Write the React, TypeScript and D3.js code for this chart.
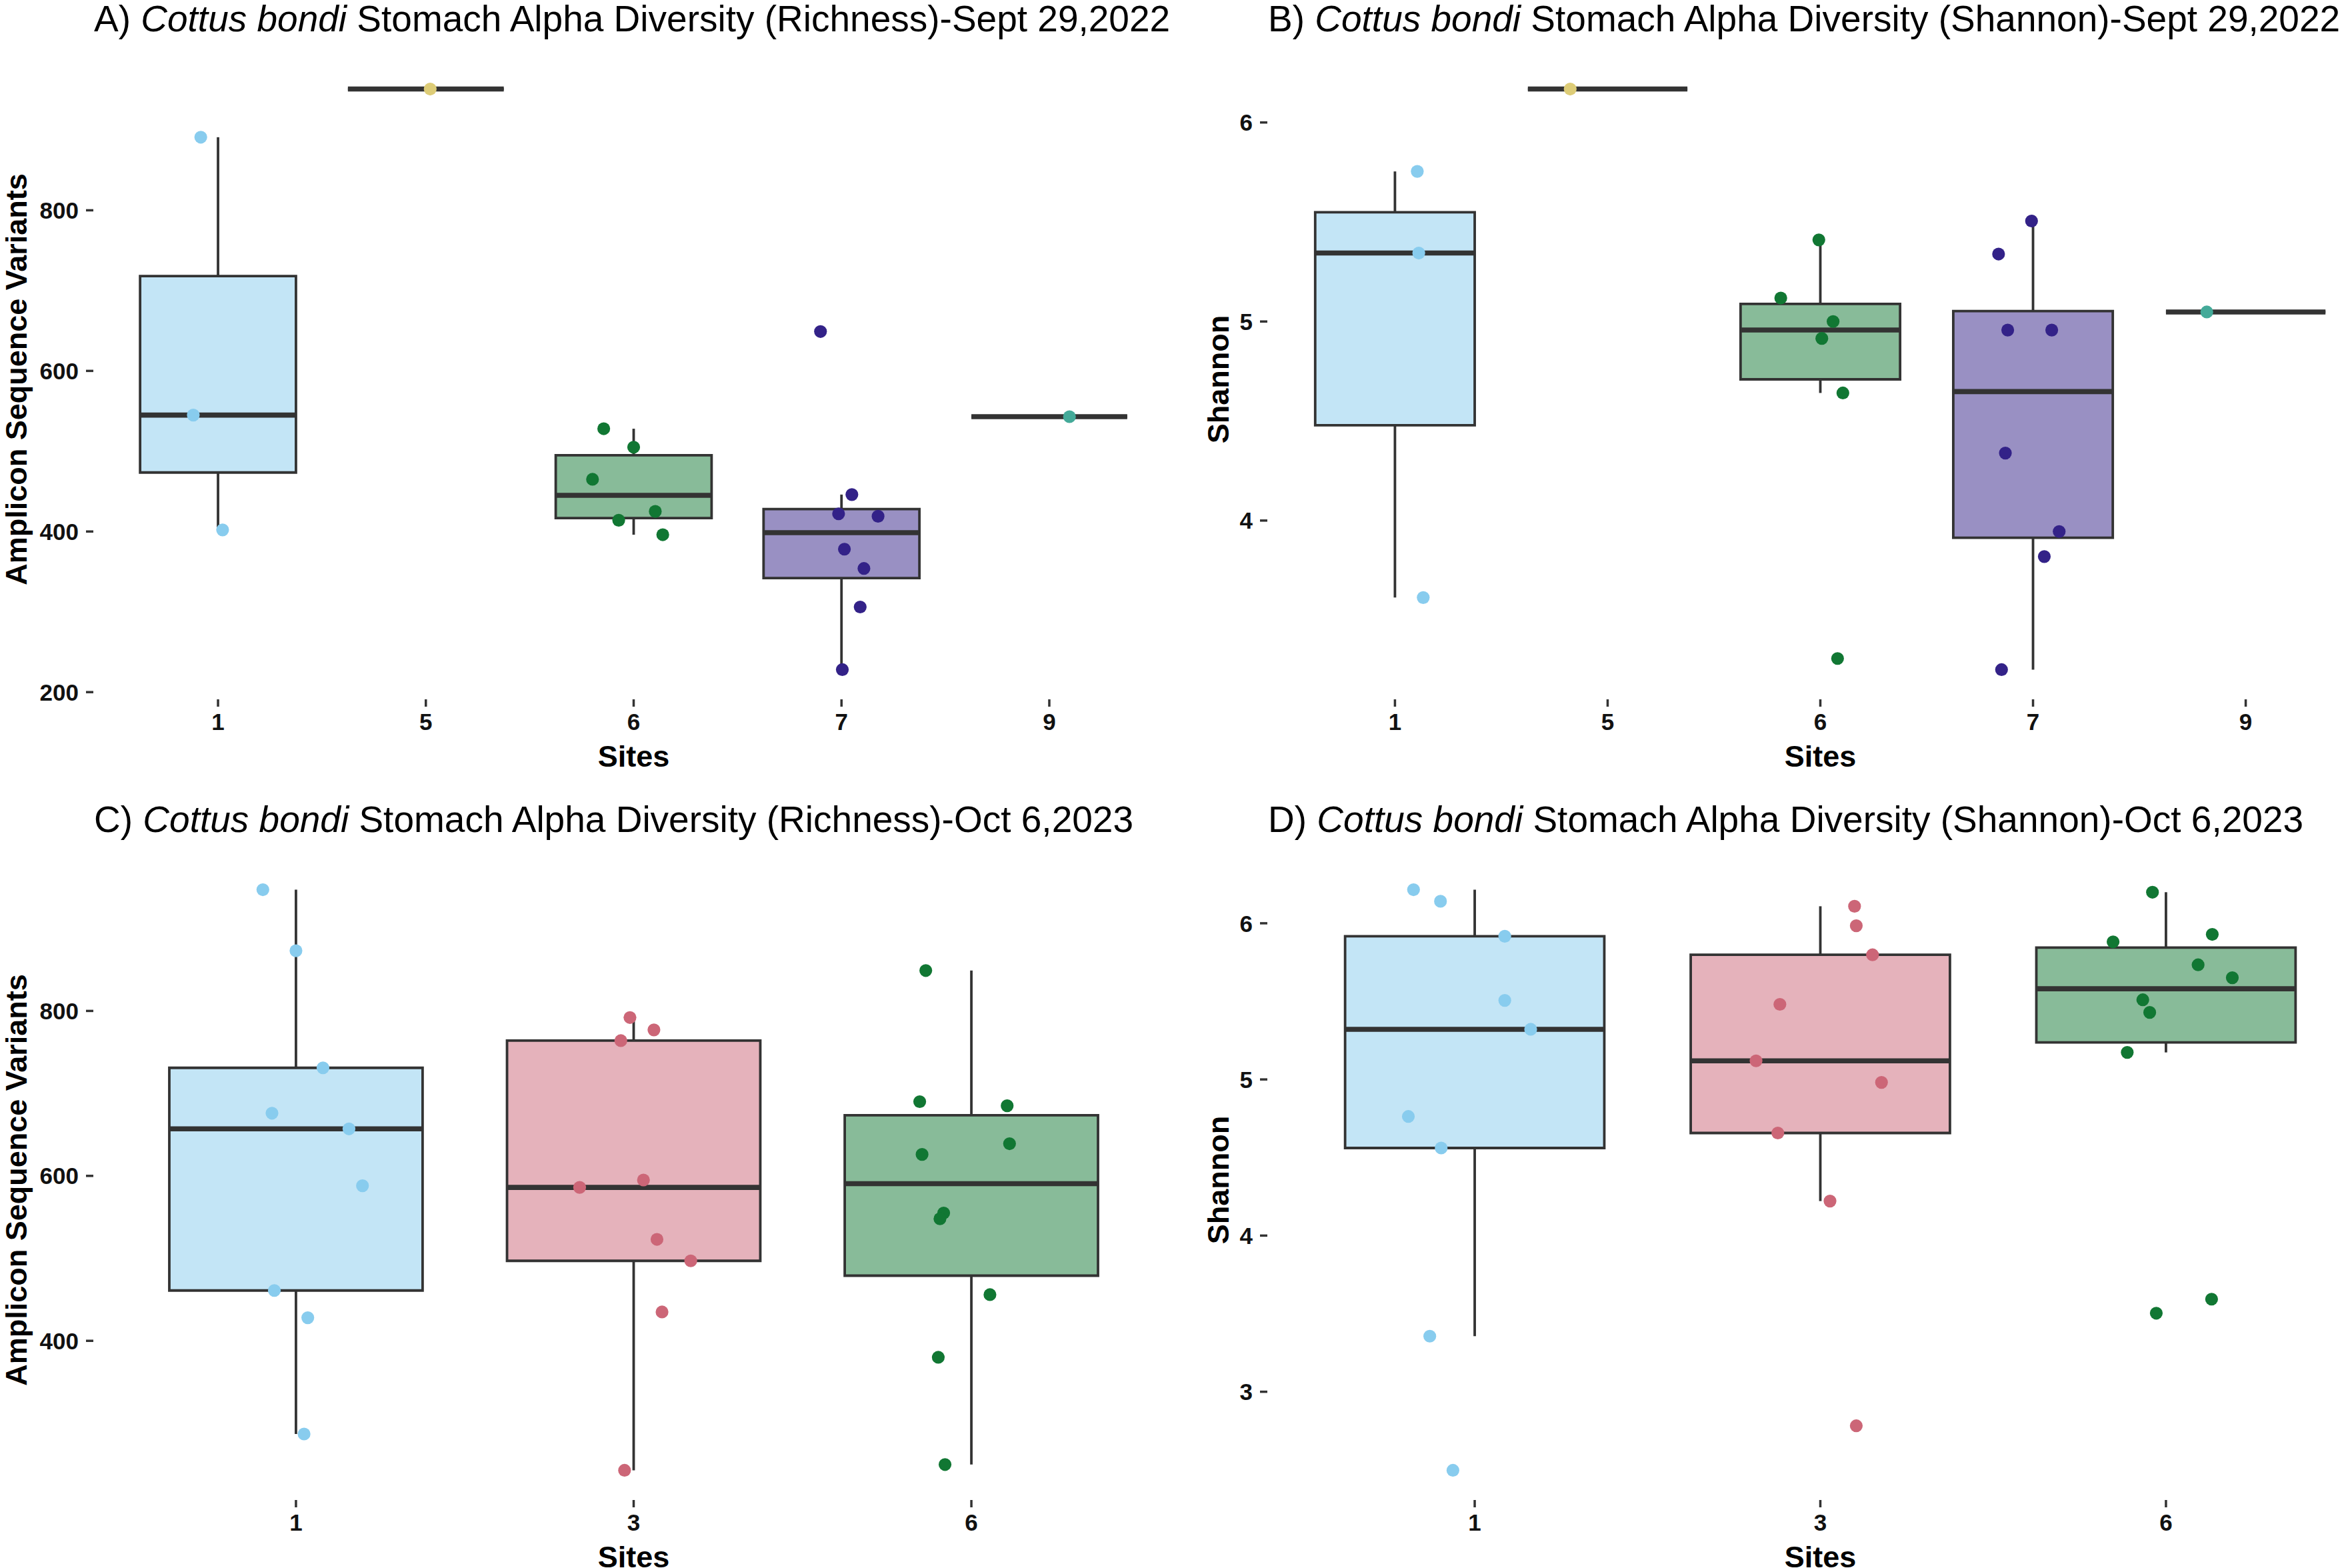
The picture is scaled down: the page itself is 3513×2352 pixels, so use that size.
import React from "react";
import * as d3 from "d3";

// ---------- data ----------
const sites2022 = ["1", "5", "6", "7", "9"];
const sites2023 = ["1", "3", "6"];

const richness2022 = [
  [891, 545, 402],
  [951],
  [528, 505, 465, 425, 414, 396],
  [649, 446, 422, 419, 378, 354, 306, 228],
  [543],
];
const jitterRichness2022 = [
  [-0.083, -0.119, 0.022],
  [0.021],
  [-0.144, 0.0, -0.198, 0.104, -0.072, 0.14],
  [-0.101, 0.05, -0.014, 0.176, 0.014, 0.108, 0.09, 0.004],
  [0.097],
];

const shannon2022 = [
  [5.754, 5.344, 3.613],
  [6.168],
  [5.41, 5.118, 5.0, 4.915, 4.641, 3.307],
  [5.505, 5.339, 4.957, 4.957, 4.339, 3.945, 3.819, 3.251],
  [5.048],
];
const jitterShannon2022 = [
  [0.105, 0.112, 0.133],
  [-0.176],
  [-0.007, -0.186, 0.06, 0.007, 0.106, 0.081],
  [-0.007, -0.162, -0.119, 0.088, -0.13, 0.123, 0.053, -0.148],
  [-0.183],
];

const richness2023 = [
  [947, 873, 731, 676, 657, 588, 461, 428, 287],
  [792, 777, 764, 595, 586, 523, 497, 435, 243],
  [849, 690, 685, 639, 626, 555, 548, 456, 380, 250],
];
const jitterRichness2023 = [
  [-0.098, 0.0, 0.08, -0.071, 0.157, 0.197, -0.064, 0.035, 0.024],
  [-0.011, 0.06, -0.038, 0.029, -0.16, 0.069, 0.169, 0.084, -0.027],
  [-0.135, -0.153, 0.106, 0.113, -0.146, -0.082, -0.093, 0.055, -0.098, -0.078],
];

const shannon2023 = [
  [6.215, 6.141, 5.917, 5.506, 5.321, 4.763, 4.561, 3.356, 2.497],
  [6.109, 5.984, 5.798, 5.481, 5.119, 4.981, 4.657, 4.221, 2.782],
  [6.199, 5.929, 5.881, 5.734, 5.651, 5.51, 5.429, 5.173, 3.593, 3.503],
];
const jitterShannon2023 = [
  [-0.177, -0.099, 0.087, 0.087, 0.162, -0.192, -0.097, -0.13, -0.063],
  [0.099, 0.104, 0.151, -0.117, -0.186, 0.177, -0.123, 0.028, 0.104],
  [-0.039, 0.134, -0.153, 0.093, 0.192, -0.067, -0.047, -0.112, 0.132, -0.028],
];

const ticksRichness2022 = [200, 400, 600, 800];
const ticksShannon2022 = [4, 5, 6];
const ticksRichness2023 = [400, 600, 800];
const ticksShannon2023 = [3, 4, 5, 6];

const siteColors: Record<string, string> = {
  "1": "#88CCEE",
  "3": "#CC6677",
  "5": "#DDCC77",
  "6": "#117733",
  "7": "#332288",
  "9": "#44AA99",
};

const titlePrefixes = ["A) ", "B) ", "C) ", "D) "];
const titleSpecies = "Cottus bondi";
const titleSuffixes = [
  " Stomach Alpha Diversity (Richness)-Sept 29,2022",
  " Stomach Alpha Diversity (Shannon)-Sept 29,2022",
  " Stomach Alpha Diversity (Richness)-Oct 6,2023",
  " Stomach Alpha Diversity (Shannon)-Oct 6,2023",
];
const yTitles = ["Amplicon Sequence Variants", "Shannon", "Amplicon Sequence Variants", "Shannon"];
const xTitle = "Sites";

// ---------- layout ----------
const W = 3513;
const H = 2352;
const FONT = "'Liberation Sans', Arial, Helvetica, sans-serif";
const INK = "#333333";

type PanelProps = {
  idx: number;
  sites: string[];
  values: number[][];
  jitter: number[][];
  ticks: number[];
  left: number;
  right: number;
  top: number;
  bottom: number;
  yTitleX: number;
};

function boxStats(vals: number[]) {
  const s = [...vals].sort((a, b) => a - b);
  const q1 = d3.quantile(s, 0.25) as number;
  const med = d3.quantile(s, 0.5) as number;
  const q3 = d3.quantile(s, 0.75) as number;
  const iqr = q3 - q1;
  const lo = d3.min(s.filter((v) => v >= q1 - 1.5 * iqr)) as number;
  const hi = d3.max(s.filter((v) => v <= q3 + 1.5 * iqr)) as number;
  return { q1, med, q3, lo, hi };
}

function Panel(p: PanelProps) {
  const all = p.values.flat();
  const [mn, mx] = d3.extent(all) as [number, number];
  const pad = (mx - mn) * 0.05;
  const y = d3.scaleLinear().domain([mn - pad, mx + pad]).range([p.bottom, p.top]);
  const x = d3.scalePoint<string>().domain(p.sites).range([p.left, p.right]).padding(0.6);
  const step = x.step();
  const half = step * 0.375;
  const cx = (p.left + p.right) / 2;
  const cy = (p.top + p.bottom) / 2;
  const sw = 3.8;

  return (
    <g>
      <text x={p.left + 1} y={p.top - 43} fontFamily={FONT} fontSize={55} fill="#000">
        <tspan>{titlePrefixes[p.idx]}</tspan>
        <tspan fontStyle="italic">{titleSpecies}</tspan>
        <tspan>{titleSuffixes[p.idx]}</tspan>
      </text>

      {/* y axis */}
      {p.ticks.map((t) => (
        <g key={"yt" + t}>
          <line x1={p.left - 11} x2={p.left} y1={y(t)} y2={y(t)} stroke={INK} strokeWidth={3.5} />
          <text
            x={p.left - 22}
            y={y(t)}
            dy="0.36em"
            textAnchor="end"
            fontFamily={FONT}
            fontWeight="bold"
            fontSize={35}
            fill="#111"
          >
            {t}
          </text>
        </g>
      ))}
      <text
        transform={`translate(${p.yTitleX},${cy}) rotate(-90)`}
        textAnchor="middle"
        fontFamily={FONT}
        fontWeight="bold"
        fontSize={45}
        fill="#000"
      >
        {yTitles[p.idx]}
      </text>

      {/* x axis */}
      {p.sites.map((s) => (
        <g key={"xt" + s}>
          <line x1={x(s)} x2={x(s)} y1={p.bottom + 1} y2={p.bottom + 12} stroke={INK} strokeWidth={3.5} />
          <text
            x={x(s)}
            y={p.bottom + 47}
            textAnchor="middle"
            fontFamily={FONT}
            fontWeight="bold"
            fontSize={35}
            fill="#111"
          >
            {s}
          </text>
        </g>
      ))}
      <text
        x={cx}
        y={p.bottom + 102}
        textAnchor="middle"
        fontFamily={FONT}
        fontWeight="bold"
        fontSize={45}
        fill="#000"
      >
        {xTitle}
      </text>

      {/* boxes */}
      {p.sites.map((s, i) => {
        const st = boxStats(p.values[i]);
        const xc = x(s) as number;
        const col = siteColors[s];
        const x0 = xc - half;
        const x1 = xc + half;
        return (
          <g key={"box" + s}>
            <line x1={xc} x2={xc} y1={y(st.q3)} y2={y(st.hi)} stroke={INK} strokeWidth={sw} />
            <line x1={xc} x2={xc} y1={y(st.q1)} y2={y(st.lo)} stroke={INK} strokeWidth={sw} />
            <path
              d={`M${x0},${y(st.q3)}H${x1}V${y(st.q1)}H${x0}Z`}
              fill={col}
              fillOpacity={0.5}
              stroke={INK}
              strokeWidth={sw}
            />
            <line x1={x0} x2={x1} y1={y(st.med)} y2={y(st.med)} stroke={INK} strokeWidth={sw * 2} />
          </g>
        );
      })}

      {/* jittered points */}
      {p.sites.map((s, i) =>
        p.values[i].map((v, j) => (
          <circle
            key={"pt" + s + "_" + j}
            cx={(x(s) as number) + p.jitter[i][j] * step}
            cy={y(v)}
            r={9.6}
            fill={siteColors[s]}
          />
        ))
      )}
    </g>
  );
}

export default function App() {
  const L = [140, 1761];
  const R = [1901, 3560];
  const T = [90, 1048];
  const B = [1291, 2249];
  return (
    <svg
      width={W}
      height={H}
      viewBox={`0 0 ${W} ${H}`}
      style={{ position: "absolute", left: 0, top: 0, background: "#fff", overflow: "hidden" }}
    >
      <rect x={0} y={0} width={W} height={H} fill="#fff" />
      <Panel idx={0} sites={sites2022} values={richness2022} jitter={jitterRichness2022} ticks={ticksRichness2022}
        left={L[0]} right={L[1]} top={T[0]} bottom={T[1]} yTitleX={40} />
      <Panel idx={1} sites={sites2022} values={shannon2022} jitter={jitterShannon2022} ticks={ticksShannon2022}
        left={R[0]} right={R[1]} top={T[0]} bottom={T[1]} yTitleX={1843} />
      <Panel idx={2} sites={sites2023} values={richness2023} jitter={jitterRichness2023} ticks={ticksRichness2023}
        left={L[0]} right={L[1]} top={B[0]} bottom={B[1]} yTitleX={40} />
      <Panel idx={3} sites={sites2023} values={shannon2023} jitter={jitterShannon2023} ticks={ticksShannon2023}
        left={R[0]} right={R[1]} top={B[0]} bottom={B[1]} yTitleX={1843} />
    </svg>
  );
}
